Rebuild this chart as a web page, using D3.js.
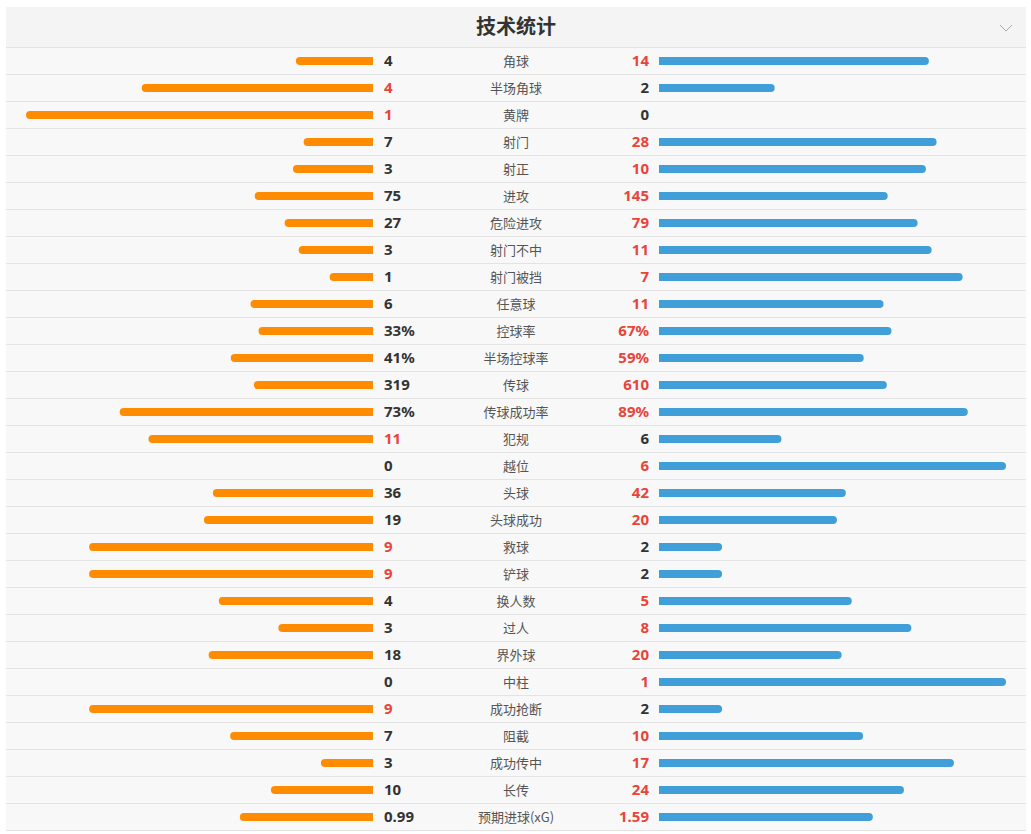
<!DOCTYPE html>
<html>
<head>
<meta charset="utf-8">
<script src="https://cdn.jsdelivr.net/npm/d3@7"></script>
<style>
  html, body { margin: 0; padding: 0; background: #fff; }
  svg { display: block; }
</style>
</head>
<body>
<svg id="chart"></svg>
<script>
// stat names, home (left) and away (right) values
const labels = ["角球", "半场角球", "黄牌", "射门", "射正", "进攻", "危险进攻", "射门不中", "射门被挡", "任意球",
    "控球率", "半场控球率", "传球", "传球成功率", "犯规", "越位", "头球", "头球成功", "救球", "铲球",
    "换人数", "过人", "界外球", "中柱", "成功抢断", "阻截", "成功传中", "长传", "预期进球(xG)"];
const homeVals = [4, 4, 1, 7, 3, 75, 27, 3, 1, 6, 33, 41, 319, 73, 11, 0, 36, 19, 9, 9, 4, 3, 18, 0, 9, 7, 3, 10, 0.99];
const awayVals = [14, 2, 0, 28, 10, 145, 79, 11, 7, 11, 67, 59, 610, 89, 6, 6, 42, 20, 2, 2, 5, 8, 20, 1, 2, 10, 17, 24, 1.59];
const suffix = ["", "", "", "", "", "", "", "", "", "", "%", "%", "", "%", "", "", "", "", "", "", "", "", "", "", "", "", "", "", ""];

const width = 1031;
const height = 834;
const panelX = 6, panelW = 1020, panelTop = 7, headH = 40, rowH = 27;
const cx = panelX + panelW / 2;
const barMax = 347, barH = 8;
const leftEnd = 373, rightStart = 659;

const orange = "#ff8c00", blue = "#409ed8", red = "#e8443a", dark = "#333";

const svg = d3.select("#chart")
    .attr("width", width)
    .attr("height", height);

// header
svg.append("rect")
    .attr("x", panelX).attr("y", panelTop)
    .attr("width", panelW).attr("height", headH)
    .attr("fill", "#f4f4f4");

svg.append("text")
    .attr("x", cx).attr("y", panelTop + 27)
    .attr("text-anchor", "middle")
    .style("font-family", "'Noto Sans CJK SC', sans-serif")
    .style("font-size", "20px")
    .style("font-weight", "bold")
    .attr("fill", dark)
    .text("技术统计");

// chevron
svg.append("path")
    .attr("d", "M1000,25 L1006,31 L1012,25")
    .attr("fill", "none")
    .attr("stroke", "#aaa")
    .attr("stroke-width", 1);

const y = d3.scaleBand()
    .domain(labels)
    .range([panelTop + headH, panelTop + headH + labels.length * rowH]);

const rows = svg.selectAll("g.row")
    .data(labels.map((l, i) => ({ label: l, home: homeVals[i], away: awayVals[i], suf: suffix[i] })))
    .enter().append("g")
    .attr("class", "row")
    .attr("transform", d => `translate(0,${y(d.label)})`);

rows.append("rect")
    .attr("x", panelX).attr("y", 0)
    .attr("width", panelW).attr("height", rowH)
    .attr("fill", "#f8f8f8");

rows.append("line")
    .attr("x1", panelX).attr("x2", panelX + panelW)
    .attr("y1", 0.5).attr("y2", 0.5)
    .attr("stroke", "#e3e3e3");

// bottom border
svg.append("line")
    .attr("x1", panelX).attr("x2", panelX + panelW)
    .attr("y1", y.range()[1] + 0.5).attr("y2", y.range()[1] + 0.5)
    .attr("stroke", "#e3e3e3");

// bar with rounded outer end
function barPath(x0, w, top, side) {
    const r = Math.min(barH / 2, w);
    if (side === "left") {
        const x1 = x0 - w;
        return `M${x0},${top} L${x1 + r},${top} A${r},${barH / 2} 0 0 0 ${x1 + r},${top + barH} L${x0},${top + barH} Z`;
    }
    const x1 = x0 + w;
    return `M${x0},${top} L${x1 - r},${top} A${r},${barH / 2} 0 0 1 ${x1 - r},${top + barH} L${x0},${top + barH} Z`;
}

rows.each(function(d) {
    const g = d3.select(this);
    // percentages are drawn against 100, counts against the row total
    const total = d.suf === "%" ? 100 : d.home + d.away;
    const w = d3.scaleLinear().domain([0, total]).range([0, barMax]);
    const top = 10;
    if (d.home > 0) {
        g.append("path").attr("d", barPath(leftEnd, w(d.home), top, "left")).attr("fill", orange);
    }
    if (d.away > 0) {
        g.append("path").attr("d", barPath(rightStart, w(d.away), top, "right")).attr("fill", blue);
    }
});

const valFont = "'Noto Sans', 'DejaVu Sans', sans-serif";

rows.append("text")
    .attr("x", 384).attr("y", 19)
    .style("font-family", valFont)
    .style("font-size", "15px")
    .style("font-weight", "bold")
    .attr("fill", d => d.home > d.away ? red : dark)
    .text(d => d.home + d.suf);

rows.append("text")
    .attr("x", 649).attr("y", 19)
    .attr("text-anchor", "end")
    .style("font-family", valFont)
    .style("font-size", "15px")
    .style("font-weight", "bold")
    .attr("fill", d => d.away > d.home ? red : dark)
    .text(d => d.away + d.suf);

rows.append("text")
    .attr("x", cx).attr("y", 19)
    .attr("text-anchor", "middle")
    .style("font-family", "'Noto Sans CJK SC', sans-serif")
    .style("font-size", "13px")
    .attr("fill", "#555")
    .text(d => d.label);
</script>
</body>
</html>
